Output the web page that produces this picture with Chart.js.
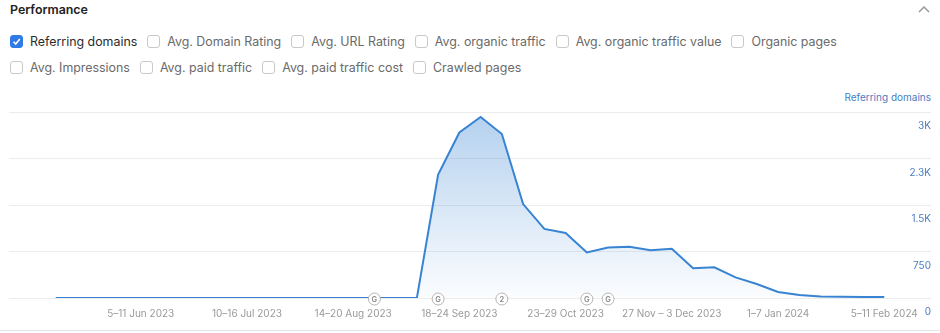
<!DOCTYPE html>
<html>
<head>
<meta charset="utf-8">
<script src="https://cdn.jsdelivr.net/npm/chart.js@4.4.1/dist/chart.umd.min.js"></script>
<style>
  body { margin: 0; width: 940px; height: 333px; background: #fff; font-family: Inter, "Noto Sans", sans-serif; position: relative; overflow: hidden; }
  .title { position: absolute; left: 10px; top: 2px; font-size: 12.4px; font-weight: 600; color: #222; }
  .chev { position: absolute; left: 917px; top: 5px; }
  .row { position: absolute; left: 10px; display: flex; align-items: center; font-size: 12.4px; color: #6a6a6a; }
  .row1 { top: 34px; }
  .row2 { top: 60px; }
  .opt { display: flex; align-items: center; margin-right: 10px; }
  .box { width: 11px; height: 11px; border: 1px solid #c9c9c9; border-radius: 3px; margin-right: 7px; background: #fff; }
  .box.on { background: #2f7be5; border-color: #2f7be5; position: relative; }
  .box.on svg { position: absolute; left: 1px; top: 1px; }
  .opt.on { color: #2b2b2b; }
  .ytitle { position: absolute; right: 9px; top: 91px; font-size: 10px; color: #4a7dc2; }
  .wrap { position: absolute; left: 0; top: 100px; width: 940px; height: 234px; }
  .bline { position: absolute; left: 0; top: 330px; width: 940px; height: 1px; background: #e6e6e6; }
</style>
</head>
<body>
<div class="title">Performance</div>
<svg class="chev" width="14" height="9"><polyline points="2,7 7,2 12,7" fill="none" stroke="#9a9a9a" stroke-width="1.5"/></svg>
<div class="row row1">
  <div class="opt on"><div class="box on"><svg width="9" height="9"><polyline points="1.5,4.8 3.7,7 7.8,2" fill="none" stroke="#fff" stroke-width="1.6"/></svg></div>Referring domains</div>
  <div class="opt"><div class="box"></div>Avg. Domain Rating</div>
  <div class="opt"><div class="box"></div>Avg. URL Rating</div>
  <div class="opt"><div class="box"></div>Avg. organic traffic</div>
  <div class="opt"><div class="box"></div>Avg. organic traffic value</div>
  <div class="opt"><div class="box"></div>Organic pages</div>
</div>
<div class="row row2">
  <div class="opt"><div class="box"></div>Avg. Impressions</div>
  <div class="opt"><div class="box"></div>Avg. paid traffic</div>
  <div class="opt"><div class="box"></div>Avg. paid traffic cost</div>
  <div class="opt"><div class="box"></div>Crawled pages</div>
</div>
<div class="ytitle">Referring domains</div>
<div class="wrap"><canvas id="chart"></canvas></div>
<div class="bline"></div>
<script>
// weekly buckets, 8–14 May 2023 .. 5–11 Feb 2024
let weeks = [
  '8–14 May 2023', '15–21 May 2023', '22–28 May 2023', '29 May – 4 Jun 2023', '5–11 Jun 2023',
  '12–18 Jun 2023', '19–25 Jun 2023', '26 Jun – 2 Jul 2023', '3–9 Jul 2023', '10–16 Jul 2023',
  '17–23 Jul 2023', '24–30 Jul 2023', '31 Jul – 6 Aug 2023', '7–13 Aug 2023', '14–20 Aug 2023',
  '21–27 Aug 2023', '28 Aug – 3 Sep 2023', '4–10 Sep 2023', '11–17 Sep 2023', '18–24 Sep 2023',
  '25 Sep – 1 Oct 2023', '2–8 Oct 2023', '9–15 Oct 2023', '16–22 Oct 2023', '23–29 Oct 2023',
  '30 Oct – 5 Nov 2023', '6–12 Nov 2023', '13–19 Nov 2023', '20–26 Nov 2023', '27 Nov – 3 Dec 2023',
  '4–10 Dec 2023', '11–17 Dec 2023', '18–24 Dec 2023', '25–31 Dec 2023', '1–7 Jan 2024',
  '8–14 Jan 2024', '15–21 Jan 2024', '22–28 Jan 2024', '29 Jan – 4 Feb 2024', '5–11 Feb 2024'
]

let referringDomains = [
  2, 2, 2, 2, 2, 2, 2, 2, 2, 2,
  2, 2, 2, 2, 2, 2, 2, 2, 1990, 2670,
  2920, 2645, 1515, 1115, 1050, 735, 815, 825, 770, 795,
  480, 494, 332, 226, 97, 48, 26, 20, 18, 16
]

let xTickWeeks = [4, 9, 14, 19, 24, 29, 34, 39]
let yTickValues = [0, 750, 1500, 2250, 3000]
let yTickLabels = ['0', '750', '1.5K', '2.3K', '3K']

// annotation markers sitting on the x axis
let markerWeeks = [15, 18, 21, 25, 26]
let markerText = ['G', 'G', '2', 'G', 'G']

let markersPlugin = {
  id: 'markers',
  afterDatasetsDraw(chart) {
    let ctx = chart.ctx
    let xs = chart.scales.x
    let y = chart.chartArea.bottom + 1
    ctx.save()
    markerWeeks.forEach((w, i) => {
      let x = xs.getPixelForValue(w)
      ctx.beginPath()
      ctx.arc(x, y, 6, 0, Math.PI * 2)
      ctx.fillStyle = '#fff'
      ctx.fill()
      ctx.lineWidth = 1
      ctx.strokeStyle = '#b5b5b5'
      ctx.stroke()
      ctx.fillStyle = '#8a8a8a'
      ctx.font = '600 7.5px Inter'
      ctx.textAlign = 'center'
      ctx.textBaseline = 'middle'
      ctx.fillText(markerText[i], x, y + 0.5)
    })
    ctx.restore()
  }
}

let chart = new Chart(document.getElementById('chart'), {
  type: 'line',
  data: {
    datasets: [{
      label: 'Referring domains',
      data: referringDomains.map((v, i) => ({ x: i, y: v })),
      borderColor: '#3884d3',
      borderWidth: 2,
      pointRadius: 0,
      tension: 0,
      fill: 'origin',
      backgroundColor: (c) => {
        let a = c.chart.chartArea
        if (!a) return 'rgba(56,132,211,0.2)'
        let g = c.chart.ctx.createLinearGradient(0, a.top, 0, a.bottom)
        g.addColorStop(0, 'rgba(56,132,211,0.38)')
        g.addColorStop(1, 'rgba(56,132,211,0.02)')
        return g
      }
    }]
  },
  options: {
    responsive: true,
    maintainAspectRatio: false,
    animation: false,
    layout: { padding: { left: 9, top: 12, bottom: 4 } },
    plugins: { legend: { display: false }, tooltip: { enabled: false } },
    scales: {
      x: {
        type: 'linear',
        min: -2.2,
        max: 41.2,
        afterBuildTicks: (s) => { s.ticks = xTickWeeks.map(v => ({ value: v })) },
        grid: { display: false, drawTicks: false },
        border: { display: false },
        ticks: {
          autoSkip: false,
          maxRotation: 0,
          padding: 10,
          color: '#9a9a9a',
          font: { size: 10, family: 'Inter' },
          callback: (v) => weeks[v]
        }
      },
      y: {
        position: 'right',
        min: 0,
        max: 3000,
        afterBuildTicks: (s) => { s.ticks = yTickValues.map(v => ({ value: v })) },
        afterFit: (s) => { s.width = 9 },
        grid: { color: '#ececec', drawTicks: false },
        border: { display: false },
        ticks: {
          mirror: true,
          padding: 0,
          labelOffset: 14,
          color: '#4a7dc2',
          font: { size: 10, family: 'Inter' },
          callback: (v) => yTickLabels[yTickValues.indexOf(v)]
        }
      }
    }
  },
  plugins: [markersPlugin]
})
</script>
</body>
</html>
